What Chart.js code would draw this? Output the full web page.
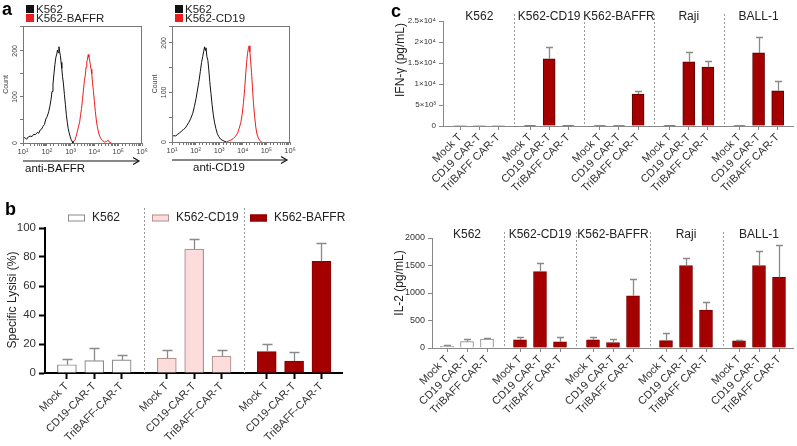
<!DOCTYPE html>
<html lang="en">
<head>
<meta charset="UTF-8">
<title>TriBAFF CAR-T: binding, lysis and cytokines</title>
<script src="https://cdn.jsdelivr.net/npm/chart.js"></script>
<style>
    body { margin: 0; background: #fff; }
    #fig { position: relative; width: 797px; height: 446px; overflow: hidden;
           font-family: Arial, "Liberation Sans", sans-serif; }
    #fig canvas { position: absolute; }
    .tag { position: absolute; font-weight: bold; font-size: 18px; line-height: 1; color: #000; }
</style>
</head>
<body>
<div id="fig">
    <canvas id="histBaffr" width="155" height="175" style="left:0;top:0"></canvas>
    <canvas id="histCd19" width="150" height="175" style="left:152px;top:0"></canvas>
    <canvas id="lysis" width="380" height="251" style="left:0;top:195px"></canvas>
    <canvas id="ifn" width="412" height="215" style="left:385px;top:0"></canvas>
    <canvas id="il2" width="412" height="231" style="left:385px;top:215px"></canvas>
    <div class="tag" style="left:2px;top:0">a</div>
    <div class="tag" style="left:5px;top:200px">b</div>
    <div class="tag" style="left:391px;top:2px">c</div>
</div>
<script>
    // ---------- data ----------
    // flow histograms: [log10 fluorescence, count]
    const histTickText = ['10¹', '10²', '10³', '10⁴', '10⁵', '10⁶'];
    const histCountTicks = [0, 100, 200];
    const histBaffrNeg = [[1.00,9],[1.08,12],[1.15,8],[1.22,13],[1.30,15],[1.38,14],[1.45,19],[1.52,18],[1.60,23],
        [1.66,21],[1.72,28],[1.78,30],[1.84,36],[1.90,40],[1.96,52],[2.02,58],[2.08,68],[2.13,80],[2.18,95],
        [2.22,112],[2.26,128],[2.30,150],[2.34,170],[2.38,186],[2.42,193],[2.45,202],[2.48,196],[2.51,209],
        [2.54,198],[2.57,190],[2.60,175],[2.63,162],[2.66,145],[2.70,128],[2.74,105],[2.78,84],[2.82,62],
        [2.86,45],[2.90,31],[2.94,22],[2.98,14],[3.02,8],[3.06,4],[3.10,0]];
    const histBaffrPos = [[3.06,0],[3.12,3],[3.18,6],[3.23,14],[3.28,24],[3.33,35],[3.38,45],[3.42,62],[3.46,75],
        [3.50,95],[3.54,115],[3.58,135],[3.62,148],[3.65,165],[3.68,176],[3.71,182],[3.74,192],[3.77,186],
        [3.80,180],[3.83,170],[3.86,160],[3.89,150],[3.92,132],[3.96,112],[4.00,90],[4.04,68],[4.08,50],
        [4.12,36],[4.17,24],[4.22,15],[4.28,9],[4.35,5],[4.42,2],[4.50,3],[4.58,6],[4.64,1],[4.72,0]];
    const histCd19Neg = [[1.00,10],[1.08,13],[1.16,12],[1.24,16],[1.32,18],[1.40,22],[1.48,25],[1.56,28],
        [1.64,34],[1.72,40],[1.80,48],[1.88,58],[1.95,72],[2.02,88],[2.08,105],[2.14,122],[2.20,142],[2.25,160],
        [2.30,172],[2.34,182],[2.38,192],[2.41,185],[2.44,190],[2.48,172],[2.52,165],[2.56,145],[2.60,122],
        [2.65,98],[2.70,75],[2.75,55],[2.80,40],[2.86,27],[2.92,17],[2.98,11],[3.05,6],[3.12,4],[3.20,2],[3.30,0]];
    const histCd19Pos = [[3.30,0],[3.40,2],[3.50,4],[3.60,7],[3.70,12],[3.78,18],[3.85,28],[3.92,40],[3.98,58],
        [4.03,80],[4.08,108],[4.12,135],[4.16,160],[4.20,178],[4.24,190],[4.27,194],[4.30,182],[4.33,165],
        [4.37,140],[4.41,110],[4.45,80],[4.50,52],[4.55,30],[4.60,16],[4.66,8],[4.72,3],[4.80,0]];

    // specific lysis (%), rows = target cells, cols = effectors
    const lysisTargets = ['K562', 'K562-CD19', 'K562-BAFFR'];
    const lysisEffectors = ['Mock T', 'CD19-CAR-T', 'TriBAFF-CAR-T'];
    const lysisMean = [[5.7, 8.5, 9.0], [10.3, 85.5, 11.7], [14.7, 8.3, 77.0]];
    const lysisSd = [[3.9, 8.5, 3.4], [5.7, 7.1, 3.9], [5.3, 5.9, 13.0]];

    // cytokines (pg/mL)
    const cytoTargets = ['K562', 'K562-CD19', 'K562-BAFFR', 'Raji', 'BALL-1'];
    const cytoEffectors = ['Mock T', 'CD19 CAR-T', 'TriBAFF CAR-T'];
    const ifnMean = [[150, 150, 150], [150, 16000, 150], [100, 100, 7600], [150, 15300, 14000], [100, 17400, 8400]];
    const ifnSd = [[0, 0, 0], [0, 2800, 0], [0, 0, 800], [0, 2400, 1500], [0, 3700, 2300]];
    const ifnTickText = ['0', '5×10³', '1×10⁴', '1.5×10⁴', '2×10⁴', '2.5×10⁴'];
    const il2Mean = [[36, 115, 164], [150, 1390, 110], [150, 100, 950], [135, 1500, 690], [130, 1500, 1285]];
    const il2Sd = [[14, 43, 12], [50, 155, 90], [50, 60, 300], [145, 130, 145], [20, 270, 590]];

    // ---------- setup ----------
    const FONT = 'Arial, "Liberation Sans", sans-serif';
    Chart.defaults.font.family = FONT;
    Chart.defaults.color = '#333';
    const GROUP_STEP = 3.65;   // distance between first bars of two groups, in bar slots

    // padding + fixed axis sizes so the plot area lands where we want it
    function frame(id, area) {
        const cv = document.getElementById(id);
        return {
            padding: { left: 0, top: area.t, right: cv.width - area.r, bottom: 0 },
            yW: area.l,
            xH: cv.height - area.b
        };
    }

    const histDecor = {
        id: 'histDecor',
        afterDraw(chart, args, o) {
            const { ctx, chartArea: a, scales } = chart;
            ctx.save();
            ctx.strokeStyle = '#777';
            ctx.lineWidth = 1;
            ctx.strokeRect(a.left + 0.5, a.top + 0.5, a.right - a.left - 1, a.bottom - a.top);

            // rotated count labels
            ctx.fillStyle = '#444';
            ctx.font = '7px ' + FONT;
            ctx.textAlign = 'center';
            ctx.textBaseline = 'middle';
            histCountTicks.forEach(v => {
                ctx.save();
                ctx.translate(a.left - 8, scales.y.getPixelForValue(v));
                ctx.rotate(-Math.PI / 2);
                ctx.fillText(String(v), 0, 0);
                ctx.restore();
            });
            ctx.save();
            ctx.translate(a.left - 17, (a.top + a.bottom) / 2);
            ctx.rotate(-Math.PI / 2);
            ctx.fillText('Count', 0, 0);
            ctx.restore();

            // legend
            ctx.font = '11.5px ' + FONT;
            ctx.textAlign = 'left';
            chart.data.datasets.forEach((ds, i) => {
                const yy = 5 + i * 9;
                ctx.fillStyle = ds.borderColor;
                ctx.fillRect(a.left + 3, yy, 8, 8);
                ctx.fillStyle = '#222';
                ctx.fillText(ds.label, a.left + 13, yy + 4.5);
            });

            // arrow + marker name
            const ay = a.bottom + 18;
            ctx.strokeStyle = '#111';
            ctx.lineWidth = 1.2;
            ctx.beginPath();
            ctx.moveTo(a.left, ay);
            ctx.lineTo(a.right - 4, ay);
            ctx.stroke();
            ctx.beginPath();
            ctx.moveTo(a.right - 9, ay - 3.5);
            ctx.lineTo(a.right - 3, ay);
            ctx.lineTo(a.right - 9, ay + 3.5);
            ctx.stroke();
            ctx.fillStyle = '#111';
            ctx.fillText(o.title, a.left + o.titleDx, ay + 8);
            ctx.restore();
        }
    };

    function histChart(id, area, ymax, neg, pos, names, title, titleDx) {
        const f = frame(id, area);
        const toPts = arr => arr.map(p => ({ x: Math.pow(10, p[0]), y: p[1] }));
        const line = (label, arr, color) => ({
            label, data: toPts(arr), borderColor: color, borderWidth: 1, pointRadius: 0, tension: 0, fill: false
        });
        return new Chart(document.getElementById(id), {
            type: 'line',
            data: { datasets: [line(names[0], neg, '#111111'), line(names[1], pos, '#ee1c1c')] },
            options: {
                responsive: false, devicePixelRatio: 1, animation: false,
                layout: { padding: f.padding },
                plugins: { legend: { display: false }, tooltip: { enabled: false },
                           histDecor: { title, titleDx } },
                scales: {
                    x: {
                        type: 'logarithmic', min: 10, max: 1e6,
                        afterFit: s => { s.height = f.xH; },
                        border: { color: '#777' },
                        grid: { drawOnChartArea: false, tickLength: 3, color: '#777' },
                        ticks: {
                            autoSkip: false, maxRotation: 0, padding: 1, color: '#444', font: { size: 7.5 },
                            callback: v => {
                                const e = Math.log10(v);
                                return Math.abs(e - Math.round(e)) < 1e-6 ? histTickText[Math.round(e) - 1] : '';
                            }
                        }
                    },
                    y: {
                        min: 0, max: ymax,
                        afterFit: s => { s.width = f.yW; },
                        border: { color: '#777' },
                        grid: { drawOnChartArea: false, tickLength: 3, color: '#777' },
                        ticks: { stepSize: 50, display: false }
                    }
                }
            },
            plugins: [histDecor]
        });
    }

    const barDecor = {
        id: 'barDecor',
        afterDatasetsDraw(chart, args, o) {
            const { ctx, scales: { x, y } } = chart;
            const nPer = o.effectors.length;
            ctx.save();

            // dotted group separators
            ctx.strokeStyle = '#9a9a9a';
            ctx.lineWidth = 1;
            ctx.setLineDash([2, 2]);
            for (let g = 1; g < o.targets.length; g++) {
                const px = Math.round(x.getPixelForValue(g * GROUP_STEP - (GROUP_STEP - nPer + 1) / 2)) + 0.5;
                ctx.beginPath();
                ctx.moveTo(px, o.sepTop);
                ctx.lineTo(px, y.getPixelForValue(0));
                ctx.stroke();
            }
            ctx.setLineDash([]);

            // error bars (upper whisker)
            ctx.strokeStyle = o.errColor;
            ctx.lineWidth = 1.3;
            o.mean.forEach((row, g) => row.forEach((v, j) => {
                const sd = o.sd[g][j];
                if (!sd) return;
                const px = Math.round(x.getPixelForValue(g * GROUP_STEP + j)) + 0.5;
                const y0 = y.getPixelForValue(v);
                const y1 = Math.round(y.getPixelForValue(v + sd)) + 0.5;
                ctx.beginPath();
                ctx.moveTo(px, y0);
                ctx.lineTo(px, y1);
                ctx.moveTo(px - o.capW / 2, y1);
                ctx.lineTo(px + o.capW / 2, y1);
                ctx.stroke();
            }));

            ctx.fillStyle = '#222';
            ctx.textBaseline = 'middle';

            // group headers
            if (o.headerY) {
                ctx.font = '12px ' + FONT;
                ctx.textAlign = 'center';
                o.targets.forEach((t, g) => {
                    ctx.fillText(t, x.getPixelForValue(g * GROUP_STEP + (nPer - 1) / 2), o.headerY);
                });
            }

            // legend
            if (o.legendX) {
                ctx.font = '12px ' + FONT;
                ctx.textAlign = 'left';
                ctx.lineWidth = 1;
                o.targets.forEach((t, g) => {
                    const lx = o.legendX[g];
                    ctx.fillStyle = o.fill[g];
                    ctx.fillRect(lx, o.legendY - 3.5, 17, 7);
                    ctx.strokeStyle = o.stroke[g];
                    ctx.strokeRect(lx + 0.5, o.legendY - 3.5 + 0.5, 16, 6);
                    ctx.fillStyle = '#222';
                    ctx.fillText(t, lx + 24, o.legendY);
                });
            }

            // y axis title
            ctx.save();
            ctx.font = o.titleSize + 'px ' + FONT;
            ctx.textAlign = 'center';
            ctx.fillStyle = '#222';
            ctx.translate(o.titleX, o.titleY);
            ctx.rotate(-Math.PI / 2);
            ctx.fillText(o.title, 0, 0);
            ctx.restore();
            ctx.restore();
        }
    };

    function barChart(id, area, o) {
        const f = frame(id, area);
        const pts = [], fills = [], strokes = [], labelAt = {};
        o.mean.forEach((row, g) => row.forEach((v, j) => {
            const pos = g * GROUP_STEP + j;
            pts.push({ x: pos, y: v });
            fills.push(o.fill[g]);
            strokes.push(o.stroke[g]);
            labelAt[pos.toFixed(2)] = o.effectors[j];
        }));
        return new Chart(document.getElementById(id), {
            type: 'bar',
            data: { datasets: [{
                data: pts, backgroundColor: fills, borderColor: strokes,
                borderWidth: o.barBorder, barThickness: o.barW, borderSkipped: 'bottom'
            }] },
            options: {
                responsive: false, devicePixelRatio: 1, animation: false,
                layout: { padding: f.padding },
                plugins: { legend: { display: false }, tooltip: { enabled: false }, barDecor: o },
                scales: {
                    x: {
                        type: 'linear', min: o.xMin, max: o.xMax, offset: false,
                        afterBuildTicks: s => { s.ticks = pts.map(p => ({ value: p.x })); },
                        afterFit: s => { s.height = f.xH; },
                        border: { color: o.axisColor, width: o.axisWidth },
                        grid: { drawOnChartArea: false, offset: false, tickLength: o.tickLen,
                                color: o.axisColor, tickWidth: o.axisWidth },
                        ticks: {
                            autoSkip: false, minRotation: 45, maxRotation: 45, padding: 1,
                            color: '#333', font: { size: 11 },
                            callback: v => labelAt[v.toFixed(2)] || ''
                        }
                    },
                    y: {
                        min: 0, max: o.yMax,
                        afterFit: s => { s.width = f.yW; },
                        border: { color: o.axisColor, width: o.axisWidth },
                        grid: { drawOnChartArea: false, tickLength: o.tickLen,
                                color: o.axisColor, tickWidth: o.axisWidth },
                        ticks: { stepSize: o.yStep, padding: 3, color: '#333',
                                 font: { size: o.yFont }, callback: o.yLabel }
                    }
                }
            },
            plugins: [barDecor]
        });
    }

    // ---------- panel a ----------
    histChart('histBaffr', { l: 23, t: 26, r: 142, b: 143 }, 254,
        histBaffrNeg, histBaffrPos, ['K562', 'K562-BAFFR'], 'anti-BAFFR', 2);
    histChart('histCd19', { l: 20, t: 26, r: 138, b: 142 }, 234,
        histCd19Neg, histCd19Pos, ['K562', 'K562-CD19'], 'anti-CD19', 21);

    // ---------- panel b ----------
    barChart('lysis', { l: 45, t: 33, r: 342, b: 178 }, {
        targets: lysisTargets, effectors: lysisEffectors, mean: lysisMean, sd: lysisSd,
        fill: ['#ffffff', '#fddcdc', '#a40000'], stroke: ['#8a8a8a', '#b09494', '#8a0000'],
        barW: 19, barBorder: 1.2, capW: 10, errColor: '#8a8a8a',
        xMin: -0.8, xMax: 2 * GROUP_STEP + 2.75, yMax: 100, yStep: 20, yFont: 11.5,
        yLabel: v => String(v),
        axisColor: '#000', axisWidth: 2, tickLen: 6,
        sepTop: 13, legendX: [68, 152, 250], legendY: 23,
        title: 'Specific Lysisi (%)', titleX: 13, titleY: 105, titleSize: 12
    });

    // ---------- panel c ----------
    barChart('ifn', { l: 58, t: 21, r: 408, b: 126 }, {
        targets: cytoTargets, effectors: cytoEffectors, mean: ifnMean, sd: ifnSd,
        fill: ['#ffffff', '#a40000', '#a40000', '#a40000', '#a40000'],
        stroke: ['#333333', '#5a0000', '#5a0000', '#5a0000', '#5a0000'],
        barW: 12, barBorder: 1, capW: 7, errColor: '#8a8a8a',
        xMin: -0.9, xMax: 4 * GROUP_STEP + 2.8, yMax: 25000, yStep: 5000, yFont: 8,
        yLabel: v => ifnTickText[Math.round(v / 5000)],
        axisColor: '#888', axisWidth: 1, tickLen: 4,
        sepTop: 14, headerY: 17,
        title: 'IFN-γ (pg/mL)', titleX: 16, titleY: 60, titleSize: 12
    });
    barChart('il2', { l: 47, t: 23, r: 408, b: 133 }, {
        targets: cytoTargets, effectors: cytoEffectors, mean: il2Mean, sd: il2Sd,
        fill: ['#ffffff', '#a40000', '#a40000', '#a40000', '#a40000'],
        stroke: ['#888888', '#7a0000', '#7a0000', '#7a0000', '#7a0000'],
        barW: 13, barBorder: 1, capW: 7, errColor: '#8a8a8a',
        xMin: -0.75, xMax: 4 * GROUP_STEP + 2.7, yMax: 2000, yStep: 500, yFont: 9,
        yLabel: v => String(v),
        axisColor: '#888', axisWidth: 1, tickLen: 4,
        sepTop: 17, headerY: 20,
        title: 'IL-2 (pg/mL)', titleX: 15, titleY: 68, titleSize: 12
    });
</script>
</body>
</html>
